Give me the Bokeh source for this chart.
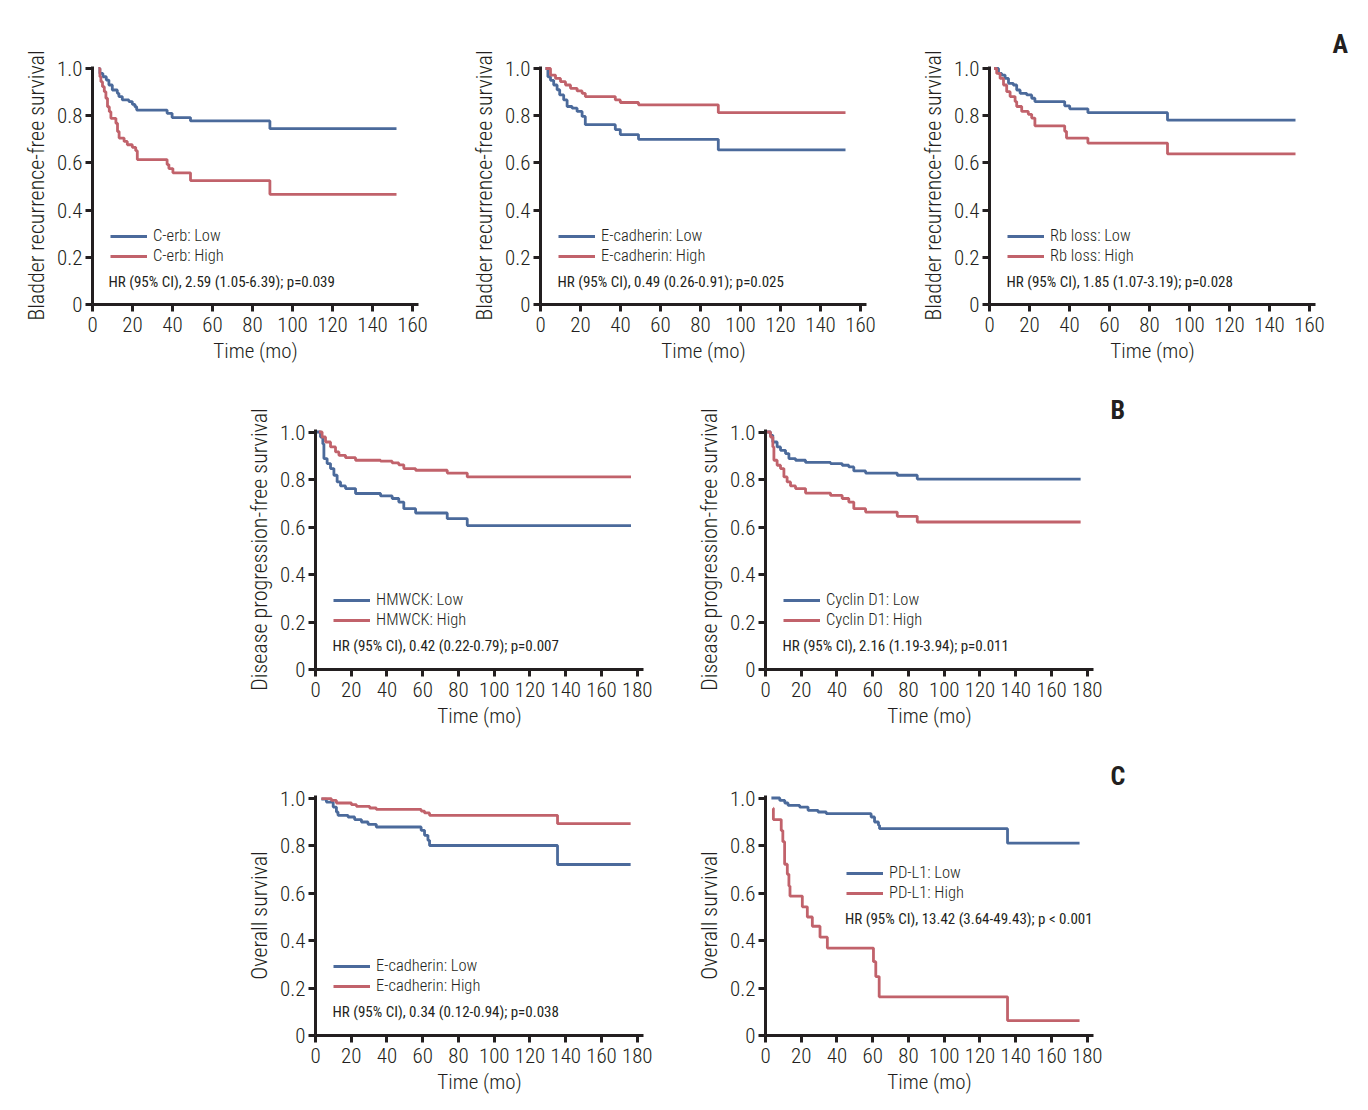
from bokeh.plotting import figure
from bokeh.models import Range1d, FixedTicker, Legend, LegendItem, Label, Spacer
from bokeh.layouts import column, row
from bokeh.embed import file_html
from bokeh.resources import INLINE

# ---------------- data ----------------
# A: Bladder recurrence-free survival
cerb_low_t = [3, 3.7, 5.2, 6.9, 8.2, 9.9, 12.4, 13.2, 14.9, 18.2, 19.9, 21.2, 22.1, 37.3, 39.8, 49, 88.7, 152]
cerb_low_s = [1.0, 0.979, 0.965, 0.951, 0.93, 0.909, 0.895, 0.881, 0.867, 0.86, 0.848, 0.838, 0.824, 0.81, 0.792, 0.778, 0.745, 0.745]
cerb_high_t = [3, 3.7, 4.2, 5, 5.9, 6.7, 7.5, 8.4, 9.2, 11.7, 12.5, 13.3, 15.8, 17.4, 19.9, 21.6, 22.4, 37.3, 38.2, 40.2, 49, 88.7, 152]
cerb_high_s = [1.0, 0.965, 0.944, 0.923, 0.902, 0.874, 0.838, 0.817, 0.789, 0.768, 0.733, 0.705, 0.691, 0.677, 0.666, 0.652, 0.614, 0.593, 0.576, 0.558, 0.525, 0.467, 0.467]

ecad_low_t = [2.5, 3.7, 5, 6.6, 8.3, 9.6, 11.6, 13.3, 15.8, 18.3, 20.8, 22.4, 37.4, 39.9, 49, 88.9, 152.5]
ecad_low_s = [1.0, 0.965, 0.95, 0.93, 0.91, 0.888, 0.867, 0.839, 0.832, 0.818, 0.797, 0.762, 0.741, 0.72, 0.70, 0.655, 0.655]
ecad_high_t = [2.5, 5, 7.5, 10, 12.5, 15, 18.3, 20.8, 22.4, 37.4, 39.9, 49, 88.9, 152.5]
ecad_high_s = [1.0, 0.972, 0.958, 0.944, 0.93, 0.916, 0.905, 0.895, 0.881, 0.867, 0.856, 0.846, 0.813, 0.813]

rb_low_t = [2.3, 4.5, 6.1, 7.8, 9.5, 11.9, 13.6, 15.3, 18.6, 21.1, 22.7, 37.6, 40.1, 49.2, 89, 153]
rb_low_s = [1.0, 0.979, 0.972, 0.958, 0.937, 0.93, 0.909, 0.895, 0.888, 0.874, 0.86, 0.842, 0.829, 0.813, 0.781, 0.781]
rb_high_t = [2.3, 3.6, 5.3, 7, 8.6, 10.3, 12.8, 13.6, 16.1, 19.4, 21.1, 22.7, 37.6, 38.5, 49.2, 89, 153]
rb_high_s = [1.0, 0.979, 0.958, 0.93, 0.902, 0.881, 0.86, 0.839, 0.818, 0.806, 0.79, 0.757, 0.734, 0.705, 0.684, 0.638, 0.638]

# B: Disease progression-free survival
hmw_low_t = [0.5, 2.8, 4.1, 4.7, 6.5, 8.4, 10.3, 12.1, 14, 16.8, 22.4, 36.4, 42.9, 46.6, 49.4, 56, 73.7, 84.9, 176.5]
hmw_low_s = [1.0, 0.979, 0.95, 0.888, 0.867, 0.846, 0.818, 0.79, 0.773, 0.762, 0.741, 0.731, 0.72, 0.705, 0.677, 0.659, 0.635, 0.606, 0.606]
hmw_high_t = [1.9, 3.7, 5.6, 8.4, 11.2, 13.1, 16.8, 22.4, 36.4, 42.9, 46.6, 49.4, 56, 73.7, 84.9, 176.5]
hmw_high_s = [1.0, 0.979, 0.958, 0.937, 0.916, 0.902, 0.892, 0.881, 0.877, 0.870, 0.862, 0.846, 0.839, 0.827, 0.811, 0.811]

cyc_low_t = [0.9, 2.8, 4.1, 6.5, 8.4, 11.2, 13.1, 16.8, 22.4, 36.4, 42.9, 46.6, 49.4, 56, 73.7, 84.9, 176.3]
cyc_low_s = [1.0, 0.986, 0.958, 0.937, 0.923, 0.909, 0.888, 0.881, 0.872, 0.867, 0.86, 0.853, 0.836, 0.827, 0.818, 0.802, 0.802]
cyc_high_t = [0.9, 2.8, 4.1, 4.7, 6.5, 8.4, 10.3, 12.1, 14, 16.8, 22.4, 36.4, 42.9, 46.6, 49.4, 56, 73.7, 84.9, 176.3]
cyc_high_s = [1.0, 0.979, 0.937, 0.881, 0.86, 0.846, 0.811, 0.79, 0.773, 0.762, 0.743, 0.733, 0.72, 0.705, 0.677, 0.663, 0.645, 0.621, 0.621]

# C: Overall survival
os_ecad_low_t = [3.3, 6.1, 9.9, 11.7, 12.6, 18.2, 21.9, 25.7, 29.4, 34, 59.1, 61, 62.9, 63.8, 135.4, 176.3]
os_ecad_low_s = [0.995, 0.983, 0.962, 0.941, 0.927, 0.92, 0.909, 0.899, 0.889, 0.878, 0.864, 0.843, 0.822, 0.80, 0.72, 0.72]
os_ecad_high_t = [3.3, 8.9, 11.7, 20.1, 22.9, 30.3, 34, 59.1, 61, 63.8, 135.4, 176.3]
os_ecad_high_s = [0.997, 0.99, 0.979, 0.972, 0.965, 0.958, 0.952, 0.945, 0.937, 0.927, 0.892, 0.892]

pdl1_low_t = [3.3, 8, 10.8, 12.6, 19.1, 23.8, 29.4, 34, 59.1, 61, 63.2, 63.8, 135.4, 175.7]
pdl1_low_s = [1.0, 0.99, 0.979, 0.969, 0.962, 0.948, 0.941, 0.934, 0.92, 0.899, 0.885, 0.871, 0.81, 0.81]
pdl1_high_t = [4.3, 4.4, 8.8, 9.7, 10.7, 12.2, 13.1, 13.7, 20.6, 23.4, 26.2, 30.5, 34.6, 60.4, 61.7, 63.6, 135.4, 175.7]
pdl1_high_s = [0.957, 0.909, 0.863, 0.816, 0.721, 0.679, 0.629, 0.587, 0.542, 0.499, 0.46, 0.414, 0.368, 0.311, 0.248, 0.163, 0.063, 0.063]

y_ticks = [0, 0.2, 0.4, 0.6, 0.8, 1.0]
y_tick_labels = {0: "0", 0.2: "0.2", 0.4: "0.4", 0.6: "0.6", 0.8: "0.8", 1.0: "1.0"}
x_ticks_a = [0, 20, 40, 60, 80, 100, 120, 140, 160]
x_ticks_bc = [0, 20, 40, 60, 80, 100, 120, 140, 160, 180]

# ---------------- styling ----------------
BLUE = "#4b6a9b"
RED = "#c1626b"
INK = "#231f20"
FONT = "'Roboto Condensed Light', 'Roboto Condensed', 'Open Sans Condensed Light', sans-serif"
REG_FONT = "'Roboto Condensed', 'Liberation Sans', sans-serif"
BOLD_FONT = "'Roboto Condensed', 'Liberation Sans', sans-serif"


def panel(ylabel, low, high, names, hr, xticks, x_end, y_end, fw, fh,
          mb_left, mb_top, mb_bottom, mb_right, leg_xy, hr_xy, letter=None):
    p = figure(frame_width=fw, frame_height=fh,
               x_range=Range1d(0, x_end), y_range=Range1d(0, y_end),
               min_border_left=mb_left, min_border_right=mb_right,
               min_border_top=mb_top, min_border_bottom=mb_bottom,
               output_backend="svg", toolbar_location=None)
    p.outline_line_color = None
    p.xgrid.visible = False
    p.ygrid.visible = False
    p.background_fill_color = "white"

    for ax in (p.xaxis[0], p.yaxis[0]):
        ax.axis_line_width = 3
        ax.axis_line_color = INK
        ax.major_tick_line_width = 3
        ax.major_tick_line_color = INK
        ax.major_tick_out = 7
        ax.major_tick_in = 0
        ax.minor_tick_line_color = None
        ax.major_label_text_font = FONT
        ax.major_label_text_font_size = "21px"
        ax.major_label_text_color = INK
        ax.axis_label_text_font = FONT
        ax.axis_label_text_font_style = "normal"
        ax.axis_label_text_color = INK
    p.xaxis[0].ticker = FixedTicker(ticks=xticks)
    p.yaxis[0].ticker = FixedTicker(ticks=y_ticks)
    p.yaxis[0].major_label_overrides = y_tick_labels
    p.xaxis[0].axis_label = "Time (mo)"
    p.xaxis[0].axis_label_text_font_size = "21px"
    p.xaxis[0].major_label_standoff = 5
    p.xaxis[0].axis_label_standoff = 4
    p.yaxis[0].axis_label = ylabel
    p.yaxis[0].axis_label_text_font_size = "22px"
    p.yaxis[0].major_label_standoff = 3
    p.yaxis[0].axis_label_standoff = 5

    r_low = p.step(low[0], low[1], mode="after", line_color=BLUE, line_width=2.8)
    r_high = p.step(high[0], high[1], mode="after", line_color=RED, line_width=2.8)

    legend = Legend(items=[LegendItem(label=names[0], renderers=[r_low]),
                           LegendItem(label=names[1], renderers=[r_high])],
                    location=leg_xy, orientation="vertical",
                    glyph_width=37, glyph_height=18, label_height=18,
                    label_standoff=6, spacing=1, padding=0, margin=0,
                    label_text_font=FONT, label_text_font_size="16.5px",
                    label_text_color=INK,
                    border_line_color=None, background_fill_alpha=0)
    p.add_layout(legend)

    p.add_layout(Label(x=hr_xy[0], y=hr_xy[1], text=hr, text_font=REG_FONT,
                       text_font_size="15px", text_color=INK,
                       text_baseline="middle", text_align="left"))
    if letter is not None:
        p.title.text = letter[0]
        p.title.align = "left"
        p.title.offset = letter[1]
        p.title.standoff = letter[2]
        p.title.text_font = BOLD_FONT
        p.title.text_font_style = "bold"
        p.title.text_font_size = "26px"
        p.title.text_color = INK
    return p


A_YL = "Bladder recurrence-free survival"
B_YL = "Disease progression-free survival"
C_YL = "Overall survival"

ya = 238 / 236
ybc = 240 / 237.5

a1 = panel(A_YL, (cerb_low_t, cerb_low_s), (cerb_high_t, cerb_high_s),
           ("C-erb: Low", "C-erb: High"),
           "HR (95% CI), 2.59 (1.05-6.39); p=0.039",
           x_ticks_a, 163, ya, 326, 238, 92, 66, 76, 38, (18, 39), (8, 0.095))
a2 = panel(A_YL, (ecad_low_t, ecad_low_s), (ecad_high_t, ecad_high_s),
           ("E-cadherin: Low", "E-cadherin: High"),
           "HR (95% CI), 0.49 (0.26-0.91); p=0.025",
           x_ticks_a, 163, ya, 326, 238, 84, 66, 76, 39, (18, 39), (8.5, 0.095))
a3 = panel(A_YL, (rb_low_t, rb_low_s), (rb_high_t, rb_high_s),
           ("Rb loss: Low", "Rb loss: High"),
           "HR (95% CI), 1.85 (1.07-3.19); p=0.028",
           x_ticks_a, 163, ya, 326, 238, 84, 66, 76, 37, (18, 39), (8.5, 0.095),
           letter=("A", 343, 15))

b1 = panel(B_YL, (hmw_low_t, hmw_low_s), (hmw_high_t, hmw_high_s),
           ("HMWCK: Low", "HMWCK: High"),
           "HR (95% CI), 0.42 (0.22-0.79); p=0.007",
           x_ticks_bc, 183.5, ybc, 328, 240, 84, 49, 76, 38, (18, 40), (9.5, 0.098))
b2 = panel(B_YL, (cyc_low_t, cyc_low_s), (cyc_high_t, cyc_high_s),
           ("Cyclin D1: Low", "Cyclin D1: High"),
           "HR (95% CI), 2.16 (1.19-3.94); p=0.011",
           x_ticks_bc, 183.5, ybc, 328, 240, 84, 49, 76, 37, (18, 40), (9.5, 0.098),
           letter=("B", 345, 10))

c1 = panel(C_YL, (os_ecad_low_t, os_ecad_low_s), (os_ecad_high_t, os_ecad_high_s),
           ("E-cadherin: Low", "E-cadherin: High"),
           "HR (95% CI), 0.34 (0.12-0.94); p=0.038",
           x_ticks_bc, 183.5, ybc, 328, 240, 84, 50, 67, 38, (18, 40), (9.5, 0.097))
c2 = panel(C_YL, (pdl1_low_t, pdl1_low_s), (pdl1_high_t, pdl1_high_s),
           ("PD-L1: Low", "PD-L1: High"),
           "HR (95% CI), 13.42 (3.64-49.43); p < 0.001",
           x_ticks_bc, 183.5, ybc, 328, 240, 84, 50, 67, 37, (81, 133), (44.5, 0.489),
           letter=("C", 345, 10))

layout = column(
    row(a1, a2, a3),
    row(Spacer(width=231, height=365), b1, b2),
    row(Spacer(width=231, height=357), c1, c2),
)

open("out.html", "w").write(file_html(layout, INLINE))
